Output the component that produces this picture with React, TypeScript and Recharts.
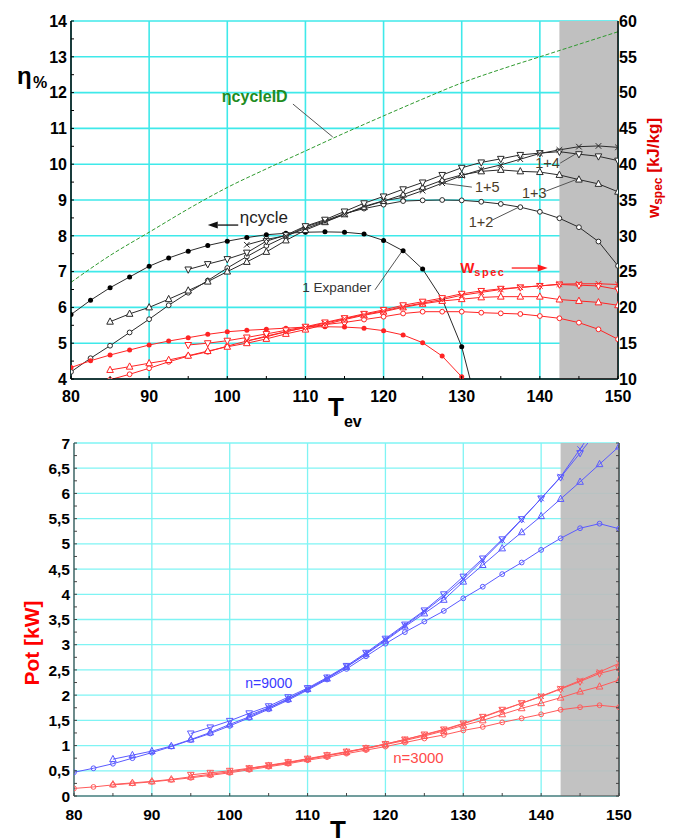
import React from 'react';
import {
  CartesianGrid,
  Line,
  LineChart,
  ReferenceArea,
  ReferenceDot,
  ReferenceLine,
  XAxis,
  YAxis,
} from 'recharts';

const _ = null;
const FONT = '"Liberation Sans", Arial, sans-serif';

// evaporation temperature, one value every 2.5 degrees
const T_EV = [80, 82.5, 85, 87.5, 90, 92.5, 95, 97.5, 100, 102.5, 105, 107.5, 110, 112.5, 115, 117.5, 120, 122.5, 125, 127.5, 130, 132.5, 135, 137.5, 140, 142.5, 145, 147.5, 150];

// ideal cycle efficiency (green dashed)
const T_ID = [80, 85, 90, 95, 100, 105, 110, 115, 120, 125, 130, 135, 140, 145, 150];
const ETA_ID = [6.7, 7.45, 8.1, 8.75, 9.35, 9.87, 10.37, 10.87, 11.35, 11.82, 12.27, 12.65, 13.0, 13.35, 13.7];

// cycle efficiency [%]
const ETA_1EXP = [5.8, 6.2, 6.55, 6.85, 7.15, 7.38, 7.57, 7.73, 7.85, 7.95, 8.03, 8.07, 8.1, 8.11, 8.1, 8.05, 7.87, 7.58, 7.07, 6.23, 4.9, 2.8, _, _, _, _, _, _, _];
const ETA_12 = [4.2, 4.58, 4.93, 5.3, 5.67, 6.06, 6.41, 6.75, 7.1, 7.42, 7.72, 7.98, 8.25, 8.42, 8.62, 8.76, 8.87, 8.97, 8.99, 9.0, 8.99, 8.95, 8.89, 8.8, 8.67, 8.49, 8.24, 7.84, 7.16];
const ETA_13 = [_, _, 5.6, 5.82, 6.0, 6.23, 6.47, 6.72, 7.0, 7.27, 7.55, 7.87, 8.16, 8.38, 8.6, 8.8, 8.97, 9.15, 9.35, 9.55, 9.7, 9.8, 9.84, 9.8, 9.78, 9.7, 9.57, 9.45, 9.23];
const ETA_14 = [_, _, _, _, _, _, 7.06, 7.21, 7.35, 7.53, 7.85, 8.02, 8.27, 8.45, 8.68, 8.91, 9.1, 9.3, 9.49, 9.7, 9.9, 10.05, 10.15, 10.26, 10.31, 10.35, 10.28, 10.22, 10.1];
const ETA_15 = [_, _, _, _, _, _, _, _, _, 7.75, 7.9, 8.0, 8.2, 8.4, 8.6, 8.82, 8.98, 9.07, 9.26, 9.47, 9.68, 9.85, 9.98, 10.14, 10.3, 10.4, 10.49, 10.51, 10.47];

// specific work [kJ/kg]
const W_1EXP = [11.6, 12.55, 13.35, 14.05, 14.75, 15.3, 15.77, 16.24, 16.6, 16.8, 16.95, 17.1, 17.25, 17.3, 17.25, 17.1, 16.75, 16.15, 15.07, 13.2, 10.3, _, _, _, _, _, _, _, _];
const W_12 = [_, _, 9.9, 10.66, 11.5, 12.4, 13.2, 13.8, 14.6, 15.3, 16.0, 16.6, 17.2, 17.6, 17.9, 18.3, 18.7, 19.15, 19.4, 19.4, 19.4, 19.26, 19.17, 19.08, 18.8, 18.48, 17.87, 16.94, 15.55];
const W_13 = [_, _, 11.26, 11.72, 12.2, 12.65, 13.25, 13.9, 14.5, 15.0, 15.6, 16.3, 16.9, 17.6, 18.3, 18.9, 19.4, 20.0, 20.5, 20.9, 21.15, 21.4, 21.5, 21.5, 21.5, 21.1, 20.9, 20.7, 20.3];
const W_14 = [_, _, _, _, _, _, 14.75, 15.0, 15.35, 15.8, 16.3, 16.8, 17.3, 17.9, 18.5, 19.1, 19.65, 20.3, 20.8, 21.3, 21.9, 22.3, 22.6, 22.8, 23.0, 23.2, 23.1, 23.0, 22.5];
const W_15 = [_, _, _, _, _, _, _, _, _, 15.3, 15.9, 16.6, 17.2, 17.8, 18.4, 19.0, 19.5, 20.1, 20.6, 21.1, 21.7, 22.1, 22.5, 22.8, 23.0, 23.25, 23.3, 23.3, 23.2];

// power [kW], n = 9000
const P9_12 = [0.47, 0.55, 0.64, 0.75, 0.86, 0.98, 1.11, 1.24, 1.39, 1.55, 1.72, 1.9, 2.1, 2.31, 2.52, 2.77, 3.02, 3.25, 3.46, 3.67, 3.92, 4.15, 4.4, 4.63, 4.88, 5.11, 5.31, 5.4, 5.3];
const P9_13 = [_, _, 0.73, 0.81, 0.89, 0.99, 1.12, 1.26, 1.42, 1.57, 1.74, 1.92, 2.12, 2.33, 2.56, 2.81, 3.08, 3.36, 3.62, 3.89, 4.25, 4.58, 4.91, 5.23, 5.55, 5.89, 6.23, 6.58, 6.93];
const P9_14 = [_, _, _, _, _, _, 1.24, 1.36, 1.49, 1.64, 1.78, 1.96, 2.14, 2.35, 2.58, 2.84, 3.12, 3.4, 3.68, 4.0, 4.35, 4.71, 5.09, 5.49, 5.9, 6.32, 6.8, 7.3, 7.8];
const P9_15 = [_, _, _, _, _, _, _, _, _, 1.6, 1.75, 1.93, 2.12, 2.33, 2.56, 2.82, 3.1, 3.38, 3.66, 3.96, 4.3, 4.68, 5.07, 5.48, 5.9, 6.33, 6.88, 7.45, 8.0];

// power [kW], n = 3000
const P3_12 = [0.15, 0.18, 0.22, 0.25, 0.28, 0.32, 0.36, 0.41, 0.46, 0.52, 0.58, 0.64, 0.71, 0.77, 0.84, 0.91, 0.98, 1.06, 1.14, 1.21, 1.3, 1.37, 1.46, 1.54, 1.62, 1.71, 1.76, 1.8, 1.76];
const P3_13 = [_, _, 0.23, 0.26, 0.29, 0.33, 0.38, 0.43, 0.48, 0.54, 0.6, 0.66, 0.73, 0.8, 0.87, 0.94, 1.02, 1.1, 1.19, 1.29, 1.4, 1.5, 1.62, 1.74, 1.84, 1.95, 2.07, 2.17, 2.3];
const P3_14 = [_, _, _, _, _, _, 0.42, 0.46, 0.5, 0.55, 0.61, 0.67, 0.74, 0.81, 0.88, 0.95, 1.03, 1.12, 1.22, 1.32, 1.44, 1.57, 1.71, 1.84, 1.97, 2.12, 2.27, 2.43, 2.53];
const P3_15 = [_, _, _, _, _, _, _, _, _, 0.55, 0.6, 0.66, 0.73, 0.8, 0.87, 0.95, 1.03, 1.12, 1.21, 1.31, 1.43, 1.56, 1.7, 1.84, 1.98, 2.13, 2.29, 2.46, 2.63];

// axis ticks
const X_MINOR = [80, 85, 90, 95, 100, 105, 110, 115, 120, 125, 130, 135, 140, 145, 150];
const X_MAJOR = [80, 90, 100, 110, 120, 130, 140, 150];
const ETA_TICKS = [4, 4.5, 5, 5.5, 6, 6.5, 7, 7.5, 8, 8.5, 9, 9.5, 10, 10.5, 11, 11.5, 12, 12.5, 13, 13.5, 14];
const W_TICKS = [10, 15, 20, 25, 30, 35, 40, 45, 50, 55, 60];
const POT_TICKS = [0, 0.25, 0.5, 0.75, 1, 1.25, 1.5, 1.75, 2, 2.25, 2.5, 2.75, 3, 3.25, 3.5, 3.75, 4, 4.25, 4.5, 4.75, 5, 5.25, 5.5, 5.75, 6, 6.25, 6.5, 6.75, 7];
const POT_GRID = [0, 0.5, 1, 1.5, 2, 2.5, 3, 3.5, 4, 4.5, 5, 5.5, 6, 6.5, 7];

const TOP_ROWS = T_EV.map((t, i) => ({
  t,
  e1: ETA_1EXP[i], e12: ETA_12[i], e13: ETA_13[i], e14: ETA_14[i], e15: ETA_15[i],
  w1: W_1EXP[i], w12: W_12[i], w13: W_13[i], w14: W_14[i], w15: W_15[i],
}));
const ID_ROWS = T_ID.map((t, i) => ({ t, id: ETA_ID[i] }));
const BOT_ROWS = T_EV.map((t, i) => ({
  t,
  b12: P9_12[i], b13: P9_13[i], b14: P9_14[i], b15: P9_15[i],
  r12: P3_12[i], r13: P3_13[i], r14: P3_14[i], r15: P3_15[i],
}));

const BLACK = '#2a2a2a';
const RED = '#ff2424';
const BLUE = '#5a5aff';
const PINK = '#ff5a5a';

function mk(kind: string, color: string, fill: string, s = 3) {
  return (p: any) => {
    const { cx, cy, index, value } = p;
    const key = `m${index}`;
    if (cx == null || cy == null || value == null) return <g key={key} />;
    if (kind === 'dot') return <circle key={key} cx={cx} cy={cy} r={s - 0.5} fill={color} />;
    if (kind === 'circle')
      return <circle key={key} cx={cx} cy={cy} r={s - 0.6} fill={fill} stroke={color} strokeWidth={1} />;
    if (kind === 'up')
      return (
        <polygon key={key} fill={fill} stroke={color} strokeWidth={1}
          points={`${cx},${cy - s - 0.5} ${cx - s},${cy + s * 0.75} ${cx + s},${cy + s * 0.75}`} />
      );
    if (kind === 'down')
      return (
        <polygon key={key} fill={fill} stroke={color} strokeWidth={1}
          points={`${cx},${cy + s + 0.5} ${cx - s},${cy - s * 0.75} ${cx + s},${cy - s * 0.75}`} />
      );
    return (
      <path key={key} stroke={color} strokeWidth={1} fill="none"
        d={`M${cx - s},${cy - s}L${cx + s},${cy + s}M${cx - s},${cy + s}L${cx + s},${cy - s}`} />
    );
  };
}

const comma = (v: number) => String(v).replace('.', ',');

// tick renderers: small inward marks plus (optional) labels
function leftTick(gap: number, len: number, show: (v: number) => boolean, fmt: (v: number) => string, size: number, color: string) {
  return (p: any) => {
    const v = p.payload.value;
    const ax = p.x + gap;
    return (
      <g>
        <line x1={ax} x2={ax + len} y1={p.y} y2={p.y} stroke={color} strokeWidth={1} />
        {show(v) && (
          <text x={p.x} y={p.y} dy="0.36em" textAnchor="end" fontFamily={FONT} fontWeight="bold" fontSize={size} fill="#000">
            {fmt(v)}
          </text>
        )}
      </g>
    );
  };
}

function rightTick(gap: number, len: number, labels: boolean, size: number, color: string) {
  return (p: any) => {
    const ax = p.x - gap;
    return (
      <g>
        {len > 0 && <line x1={ax} x2={ax - len} y1={p.y} y2={p.y} stroke={color} strokeWidth={1} />}
        {labels && (
          <text x={p.x} y={p.y} dy="0.36em" textAnchor="start" fontFamily={FONT} fontWeight="bold" fontSize={size} fill="#000">
            {p.payload.value}
          </text>
        )}
      </g>
    );
  };
}

function bottomTick(gap: number, len: number, size: number, color: string) {
  return (p: any) => {
    const v = p.payload.value;
    const ay = p.y - gap;
    return (
      <g>
        <line x1={p.x} x2={p.x} y1={ay} y2={ay - len} stroke={color} strokeWidth={1} />
        {v % 10 === 0 && (
          <text x={p.x} y={p.y} dy="0.71em" textAnchor="middle" fontFamily={FONT} fontWeight="bold" fontSize={size} fill="#000">
            {v}
          </text>
        )}
      </g>
    );
  };
}

function topTick(len: number, color: string) {
  return (p: any) => <line x1={p.x} x2={p.x} y1={p.y} y2={p.y + len} stroke={color} strokeWidth={1} />;
}

function note(text: React.ReactNode, color: string, size: number, weight = 'normal') {
  return (p: any) => (
    <text x={p.viewBox.x} y={p.viewBox.y} dy="0.35em" fill={color} fontSize={size} fontWeight={weight} fontFamily={FONT}>
      {text}
    </text>
  );
}

function arrow(color: string) {
  return (p: any) => {
    const { x1, y1, x2, y2 } = p;
    const dx = x2 - x1;
    const dy = y2 - y1;
    const l = Math.hypot(dx, dy) || 1;
    const ux = dx / l;
    const uy = dy / l;
    const bx = x2 - ux * 10;
    const by = y2 - uy * 10;
    return (
      <g>
        <line x1={x1} y1={y1} x2={bx} y2={by} stroke={color} strokeWidth={1.3} />
        <polygon points={`${x2},${y2} ${bx - uy * 3.5},${by + ux * 3.5} ${bx + uy * 3.5},${by - ux * 3.5}`} fill={color} />
      </g>
    );
  };
}

const POINTER = '#555';
const LABEL = '#4a3c28';

function TopChart() {
  const ax = { xAxisId: 'x', yAxisId: 'eta' } as const;
  return (
    <div style={{ position: 'absolute', left: 0, top: 0 }}>
      <LineChart width={673} height={432} data={TOP_ROWS} margin={{ top: 21, right: 15, bottom: 23, left: 11 }}>
        <XAxis xAxisId="x" dataKey="t" type="number" domain={[80, 150]} ticks={X_MINOR} interval={0} allowDataOverflow
          height={30} tickSize={0} tickMargin={12} tickLine={false} axisLine={{ stroke: '#000', strokeWidth: 1.5 }}
          tick={bottomTick(12, 3, 16, '#000')} />
        <XAxis xAxisId="top" orientation="top" dataKey="t" type="number" domain={[80, 150]} ticks={X_MINOR} interval={0}
          allowDataOverflow height={0} tickSize={0} tickMargin={0} tickLine={false}
          axisLine={{ stroke: '#000', strokeWidth: 1.5 }} tick={topTick(3, '#000')} />
        <YAxis yAxisId="eta" type="number" domain={[4, 14]} ticks={ETA_TICKS} interval={0} allowDataOverflow width={60}
          tickSize={0} tickMargin={4} tickLine={false} axisLine={{ stroke: '#000', strokeWidth: 1.5 }}
          tick={leftTick(4, 3, (v) => Number.isInteger(v), (v) => String(v), 16, '#000')} />
        <YAxis yAxisId="w" orientation="right" type="number" domain={[10, 60]} ticks={W_TICKS} interval={0}
          allowDataOverflow width={40} tickSize={0} tickMargin={1} tickLine={false}
          axisLine={{ stroke: '#000', strokeWidth: 1.5 }} tick={rightTick(1, 0, true, 16, '#000')} />
        <XAxis xAxisId="grid" orientation="top" dataKey="t" type="number" domain={[80, 150]} ticks={X_MAJOR}
          allowDataOverflow hide height={0} />
        <CartesianGrid xAxisId="grid" yAxisId="w" stroke="#3fe9ea" strokeWidth={1.6} />
        <ReferenceArea {...ax} x1={142.5} x2={150} fill="#c0c0c0" fillOpacity={1} stroke="none" />

        <Line xAxisId="x" yAxisId="eta" data={ID_ROWS} dataKey="id" type="monotone" stroke="#2f9a2f" strokeWidth={1}
          strokeDasharray="4 2" dot={false} activeDot={false} isAnimationActive={false} />

        <Line {...ax} dataKey="e1" stroke={BLACK} strokeWidth={1} dot={mk('dot', '#000', '#000', 3)} activeDot={false} isAnimationActive={false} />
        <Line {...ax} dataKey="e12" stroke={BLACK} strokeWidth={1} dot={mk('circle', BLACK, '#fff', 3)} activeDot={false} isAnimationActive={false} />
        <Line {...ax} dataKey="e13" stroke={BLACK} strokeWidth={1} dot={mk('up', BLACK, '#fff', 3.3)} activeDot={false} isAnimationActive={false} />
        <Line {...ax} dataKey="e14" stroke={BLACK} strokeWidth={1} dot={mk('down', BLACK, '#fff', 3.3)} activeDot={false} isAnimationActive={false} />
        <Line {...ax} dataKey="e15" stroke={BLACK} strokeWidth={1} dot={mk('x', BLACK, 'none', 2.8)} activeDot={false} isAnimationActive={false} />

        <Line xAxisId="x" yAxisId="w" dataKey="w1" stroke={RED} strokeWidth={1} dot={mk('dot', RED, RED, 3)} activeDot={false} isAnimationActive={false} />
        <Line xAxisId="x" yAxisId="w" dataKey="w12" stroke={RED} strokeWidth={1} dot={mk('circle', RED, '#fff', 3)} activeDot={false} isAnimationActive={false} />
        <Line xAxisId="x" yAxisId="w" dataKey="w13" stroke={RED} strokeWidth={1} dot={mk('up', RED, '#fff', 3.3)} activeDot={false} isAnimationActive={false} />
        <Line xAxisId="x" yAxisId="w" dataKey="w14" stroke={RED} strokeWidth={1} dot={mk('down', RED, '#fff', 3.3)} activeDot={false} isAnimationActive={false} />
        <Line xAxisId="x" yAxisId="w" dataKey="w15" stroke={RED} strokeWidth={1} dot={mk('x', RED, 'none', 2.8)} activeDot={false} isAnimationActive={false} />

        <ReferenceLine {...ax} segment={[{ x: 108.4, y: 11.68 }, { x: 113.5, y: 10.76 }]} stroke={POINTER} />
        <ReferenceDot {...ax} x={99.3} y={11.88} r={0} fill="none" stroke="none"
          label={note('ηcycleID', '#1f8c1f', 16, 'bold')} />

        <ReferenceLine {...ax} segment={[{ x: 101.4, y: 8.3 }, { x: 97.5, y: 8.3 }]} stroke="#000" shape={arrow('#111')} />
        <ReferenceDot {...ax} x={101.6} y={8.53} r={0} fill="none" stroke="none" label={note('ηcycle', '#222', 17)} />

        <ReferenceLine {...ax} segment={[{ x: 118.9, y: 6.49 }, { x: 122.4, y: 7.58 }]} stroke={POINTER} />
        <ReferenceDot {...ax} x={109.6} y={6.57} r={0} fill="none" stroke="none" label={note('1 Expander', '#333', 13.5)} />

        <ReferenceLine {...ax} segment={[{ x: 133.9, y: 8.44 }, { x: 137.3, y: 8.8 }]} stroke={POINTER} />
        <ReferenceDot {...ax} x={130.9} y={8.39} r={0} fill="none" stroke="none" label={note('1+2', LABEL, 14.5)} />

        <ReferenceLine {...ax} segment={[{ x: 140.8, y: 9.25 }, { x: 145, y: 9.6 }]} stroke={POINTER} />
        <ReferenceDot {...ax} x={137.7} y={9.2} r={0} fill="none" stroke="none" label={note('1+3', LABEL, 14.5)} />

        <ReferenceLine {...ax} segment={[{ x: 142.6, y: 10.03 }, { x: 144.9, y: 10.33 }]} stroke={POINTER} />
        <ReferenceDot {...ax} x={139.4} y={10.03} r={0} fill="none" stroke="none" label={note('1+4', LABEL, 14.5)} />

        <ReferenceLine {...ax} segment={[{ x: 131.3, y: 9.36 }, { x: 127.5, y: 9.47 }]} stroke={POINTER} />
        <ReferenceDot {...ax} x={131.7} y={9.36} r={0} fill="none" stroke="none" label={note('1+5', LABEL, 14.5)} />

        <ReferenceLine {...ax} segment={[{ x: 136.4, y: 7.1 }, { x: 141.0, y: 7.1 }]} stroke={RED} shape={arrow('#ff1a1a')} />
        <ReferenceDot {...ax} x={129.8} y={7.1} r={0} fill="none" stroke="none"
          label={note(<>W<tspan fontSize={11} dy={3} letterSpacing={1.5}>spec</tspan></>, '#ff1a1a', 15, 'bold')} />
      </LineChart>
    </div>
  );
}

function BottomChart() {
  const ax = { xAxisId: 'x', yAxisId: 'p' } as const;
  return (
    <div style={{ position: 'absolute', left: 0, top: 420 }}>
      <LineChart width={673} height={418} data={BOT_ROWS} margin={{ top: 23, right: 50, bottom: 12, left: 24 }}>
        <XAxis xAxisId="x" dataKey="t" type="number" domain={[80, 150]} ticks={X_MINOR} interval={0} allowDataOverflow
          height={30} tickSize={0} tickMargin={13} tickLine={false} axisLine={{ stroke: '#444', strokeWidth: 1.2 }}
          tick={bottomTick(13, 3, 15.5, '#444')} />
        <XAxis xAxisId="top" orientation="top" dataKey="t" type="number" domain={[80, 150]} ticks={X_MINOR} interval={0}
          allowDataOverflow height={0} tickSize={0} tickMargin={0} tickLine={false}
          axisLine={{ stroke: '#444', strokeWidth: 1.2 }} tick={topTick(3, '#444')} />
        <YAxis yAxisId="p" type="number" domain={[0, 7]} ticks={POT_TICKS} interval={0} allowDataOverflow width={50}
          tickSize={0} tickMargin={4} tickLine={false} axisLine={{ stroke: '#444', strokeWidth: 1.2 }}
          tick={leftTick(4, 3, (v) => (v * 2) % 1 === 0, comma, 15.5, '#444')} />
        <YAxis yAxisId="pr" orientation="right" type="number" domain={[0, 7]} ticks={POT_TICKS} interval={0}
          allowDataOverflow width={4} tickSize={0} tickMargin={0} tickLine={false}
          axisLine={{ stroke: '#444', strokeWidth: 1.5 }} tick={rightTick(0, 3, false, 12, '#444')} />
        <XAxis xAxisId="grid" orientation="top" dataKey="t" type="number" domain={[80, 150]} ticks={X_MAJOR}
          allowDataOverflow hide height={0} />
        <YAxis yAxisId="grid" orientation="right" type="number" domain={[0, 7]} ticks={POT_GRID} allowDataOverflow
          hide width={0} />
        <CartesianGrid xAxisId="grid" yAxisId="grid" stroke="#7ff4f4" strokeWidth={1.3} />
        <ReferenceArea {...ax} x1={142.5} x2={150} fill="#bdbdbd" fillOpacity={0.92} stroke="none" />

        <Line {...ax} dataKey="b12" stroke={BLUE} strokeWidth={1} dot={mk('circle', BLUE, 'none', 3)} activeDot={false} isAnimationActive={false} />
        <Line {...ax} dataKey="b13" stroke={BLUE} strokeWidth={1} dot={mk('up', BLUE, 'none', 3.3)} activeDot={false} isAnimationActive={false} />
        <Line {...ax} dataKey="b14" stroke={BLUE} strokeWidth={1} dot={mk('down', BLUE, 'none', 3.3)} activeDot={false} isAnimationActive={false} />
        <Line {...ax} dataKey="b15" stroke={BLUE} strokeWidth={1} dot={mk('x', BLUE, 'none', 2.8)} activeDot={false} isAnimationActive={false} />

        <Line {...ax} dataKey="r12" stroke={PINK} strokeWidth={1} dot={mk('circle', PINK, 'none', 3)} activeDot={false} isAnimationActive={false} />
        <Line {...ax} dataKey="r13" stroke={PINK} strokeWidth={1} dot={mk('up', PINK, 'none', 3.3)} activeDot={false} isAnimationActive={false} />
        <Line {...ax} dataKey="r14" stroke={PINK} strokeWidth={1} dot={mk('down', PINK, 'none', 3.3)} activeDot={false} isAnimationActive={false} />
        <Line {...ax} dataKey="r15" stroke={PINK} strokeWidth={1} dot={mk('x', PINK, 'none', 2.8)} activeDot={false} isAnimationActive={false} />

        <ReferenceDot {...ax} x={102} y={2.24} r={0} fill="none" stroke="none" label={note('n=9000', '#3a3aff', 14)} />
        <ReferenceDot {...ax} x={121} y={0.75} r={0} fill="none" stroke="none" label={note('n=3000', '#ff4a4a', 15)} />
      </LineChart>
    </div>
  );
}

export default function App() {
  return (
    <div style={{ position: 'absolute', left: 0, top: 0, width: 673, height: 838, background: '#fff', overflow: 'hidden' }}>
      <TopChart />
      <BottomChart />
      <svg width={673} height={838} style={{ position: 'absolute', left: 0, top: 0, pointerEvents: 'none' }}>
        <text x={17} y={84} fontFamily={FONT} fontWeight="bold" fontSize={24} fill="#000">η</text>
        <text x={33} y={88} fontFamily={FONT} fontWeight="bold" fontSize={16} fill="#000">%</text>
        <text x={328} y={416} fontFamily={FONT} fontWeight="bold" fontSize={26} fill="#000">
          T<tspan fontSize={16} dy={11}>ev</tspan>
        </text>
        <text x={330} y={839} fontFamily={FONT} fontWeight="bold" fontSize={26} fill="#000">
          T<tspan fontSize={16} dy={10}>ev</tspan>
        </text>
        <text transform="translate(653,168) rotate(-90)" textAnchor="middle" dy="0.35em" fontFamily={FONT}
          fontWeight="bold" fontSize={17} fill="#e00000">
          w<tspan fontSize={12} dy={3}>spec</tspan>
          <tspan dy={-3}> [kJ/kg]</tspan>
        </text>
        <text transform="translate(32,643) rotate(-90)" textAnchor="middle" dy="0.35em" fontFamily={FONT}
          fontWeight="bold" fontSize={21} fill="#ff0000">
          Pot  [kW]
        </text>
      </svg>
    </div>
  );
}
